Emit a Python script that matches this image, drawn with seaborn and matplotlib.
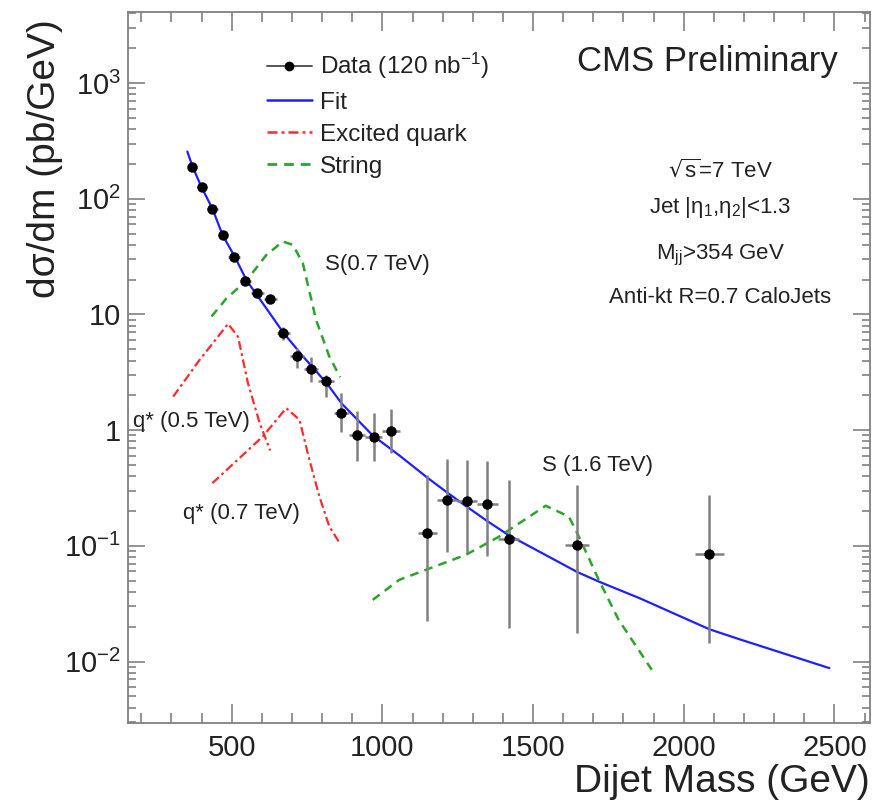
import matplotlib
matplotlib.use("Agg")
import matplotlib.pyplot as plt
from matplotlib.lines import Line2D
from matplotlib import ticker
import seaborn as sns
import numpy as np
import pandas as pd

# ── data ─────────────────────────────────────────────────────────────────────
bin_lo = [354, 386, 419, 453, 489, 526, 565, 606, 649, 693, 740, 788, 838, 890,
          944, 1000, 1118, 1181, 1246, 1313, 1383, 1607, 2037]
bin_hi = [386, 419, 453, 489, 526, 565, 606, 649, 693, 740, 788, 838, 890, 944,
          1000, 1058, 1181, 1246, 1313, 1383, 1455, 1687, 2132]
xsec = [190, 126, 82.3, 48.5, 31.3, 19.6, 15.3, 13.6, 6.98, 4.39, 3.41, 2.68,
        1.40, 0.91, 0.88, 0.99, 0.129, 0.250, 0.242, 0.229, 0.114, 0.102, 0.0853]
xsec_hi = [197, 131, 86, 51, 33, 20.8, 16.4, 14.7, 7.86, 5.11, 4.33, 3.0,
           2.09, 1.45, 1.40, 1.52, 0.411, 0.565, 0.553, 0.543, 0.372, 0.336, 0.275]
xsec_lo = [183, 121, 78.5, 46, 29.6, 18.4, 14.2, 12.5, 6.03, 3.43, 2.63, 1.95,
           0.97, 0.536, 0.536, 0.633, 0.0226, 0.0883, 0.0865, 0.0824, 0.0195, 0.0176, 0.0144]

fit_m = [353, 370, 400, 436, 470, 511, 550, 615, 671, 737, 815, 865, 968, 1058,
         1150, 1215, 1279, 1349, 1417, 1647, 1718, 1853, 2085, 2184, 2483]
fit_y = [256, 190, 126, 82.3, 48.5, 31.3, 19.6, 11.3, 6.98, 4.33, 2.55, 1.70, 0.90,
         0.60, 0.387, 0.289, 0.219, 0.163, 0.1245, 0.0593, 0.0491, 0.0353, 0.019,
         0.0156, 0.00877]

qstar05_m = [306, 394, 488, 521, 554, 593, 628]
qstar05_y = [1.95, 4.06, 8.3, 6.44, 2.55, 1.15, 0.667]
qstar07_m = [436, 603, 681, 725, 758, 791, 824, 860]
qstar07_y = [0.348, 0.88, 1.55, 1.23, 0.553, 0.267, 0.147, 0.104]

string07_m = [433, 483, 549, 615, 670, 703, 736, 780, 824, 860]
string07_y = [9.6, 13.8, 19.6, 32.7, 42.7, 40, 27.8, 8.97, 4.33, 2.87]
string16_m = [968, 1056, 1277, 1387, 1542, 1619, 1657, 1718, 1784, 1894]
string16_y = [0.0341, 0.0508, 0.0836, 0.120, 0.222, 0.179, 0.113, 0.0508, 0.0229, 0.00848]

y_ticks = [1e-2, 1e-1, 1, 10, 1e2, 1e3]
y_tick_labels = ["10$^{-2}$", "10$^{-1}$", "1", "10", "10$^{2}$", "10$^{3}$"]
x_ticks = [500, 1000, 1500, 2000, 2500]

# ── style ────────────────────────────────────────────────────────────────────
sns.set_theme(style="ticks")
plt.rcParams["font.family"] = ["Liberation Sans", "DejaVu Sans"]
plt.rcParams["mathtext.default"] = "regular"
TXT = "#222222"
FRAME = "#808080"

fig = plt.figure(figsize=(8.94, 8.08), dpi=100)
ax = fig.add_axes([128 / 894, 85 / 808, 742 / 894, 711 / 808])

# ── curves ───────────────────────────────────────────────────────────────────
curves = [
    (fit_m, fit_y, "#1f1fff", "-", 1.6),
    (qstar05_m, qstar05_y, "#ff2a2a", (0, (4, 1.6, 1.2, 1.6)), 1.6),
    (qstar07_m, qstar07_y, "#ff2a2a", (0, (4, 1.6, 1.2, 1.6)), 1.6),
    (string07_m, string07_y, "#2aa52a", (0, (3.5, 2.5)), 1.8),
    (string16_m, string16_y, "#2aa52a", (0, (3.5, 2.5)), 1.8),
]
for m, y, col, ls, lw in curves:
    df = pd.DataFrame({"m": m, "y": y})
    sns.lineplot(data=df, x="m", y="y", ax=ax, color=col, linestyle=ls, lw=lw,
                 sort=False, estimator=None, zorder=3)

# ── data points ──────────────────────────────────────────────────────────────
lo = np.array(bin_lo, float)
hi = np.array(bin_hi, float)
xc = (lo + hi) / 2
yv = np.array(xsec)
ax.errorbar(xc, yv, xerr=(hi - lo) / 2,
            yerr=[yv - np.array(xsec_lo), np.array(xsec_hi) - yv],
            fmt="o", color="black", ms=6.5, ecolor="#808080", elinewidth=1.8,
            capsize=0, zorder=4)

# ── axes ─────────────────────────────────────────────────────────────────────
ax.set_yscale("log")
ax.set_xlim(156, 2618)
ax.set_ylim(0.00294, 4120)
ax.set_xticks(x_ticks)
ax.xaxis.set_minor_locator(ticker.MultipleLocator(100))
ax.set_yticks(y_ticks)
ax.set_yticklabels(y_tick_labels)
ax.yaxis.set_minor_locator(ticker.LogLocator(base=10, subs=np.arange(2, 10), numticks=20))
ax.yaxis.set_minor_formatter(ticker.NullFormatter())

for s in ax.spines.values():
    s.set_color(FRAME)
    s.set_linewidth(1.3)
ax.tick_params(which="both", direction="in", top=True, right=True, color=FRAME, width=1.2)
ax.tick_params(axis="x", which="major", length=14, pad=8, labelsize=21, labelcolor=TXT)
ax.tick_params(axis="x", which="minor", length=7)
ax.tick_params(axis="y", which="major", length=12, pad=5, labelsize=21, labelcolor=TXT)
ax.tick_params(axis="y", which="minor", length=6)

ax.set_xlabel("Dijet Mass (GeV)", fontsize=28, color=TXT, loc="right")
ax.xaxis.set_label_coords(1.0, -0.058)
ax.set_ylabel("dσ/dm (pb/GeV)", fontsize=28, color=TXT, loc="top")
ax.yaxis.set_label_coords(-0.088, 0.99)

# ── legend ───────────────────────────────────────────────────────────────────
handles = [
    Line2D([], [], color="#555555", lw=1.4, marker="o", ms=6, mfc="black", mec="black"),
    Line2D([], [], color="#1f1fff", lw=1.8),
    Line2D([], [], color="#ff2a2a", lw=1.8, ls=(0, (4, 1.6, 1.2, 1.6))),
    Line2D([], [], color="#2aa52a", lw=2.0, ls=(0, (3.5, 2.5))),
]
labels = ["Data (120 nb$^{-1}$)", "Fit", "Excited quark", "String"]
leg = ax.legend(handles, labels, loc="upper left", bbox_to_anchor=(0.187, 0.945),
                frameon=False, fontsize=17.5, handlelength=1.85, handletextpad=0.35,
                labelspacing=0.42, borderpad=0, borderaxespad=0)
for t in leg.get_texts():
    t.set_color(TXT)

# ── annotations ──────────────────────────────────────────────────────────────
ax.text(0.957, 0.930, "CMS Preliminary", transform=ax.transAxes, ha="right",
        va="center", fontsize=25, color=TXT)
info = [("$\\sqrt{s}$=7 TeV", 0.778), ("Jet |η$_{1}$,η$_{2}$|<1.3", 0.725),
        ("M$_{jj}$>354 GeV", 0.658), ("Anti-kt R=0.7 CaloJets", 0.598)]
for s, yy in info:
    ax.text(0.798, yy, s, transform=ax.transAxes, ha="center", va="center",
            fontsize=16, color=TXT)

ax.text(808, 26.8, "S(0.7 TeV)", ha="left", va="center", fontsize=16, color=TXT)
ax.text(1529, 0.491, "S (1.6 TeV)", ha="left", va="center", fontsize=16, color=TXT)
ax.text(172, 1.18, "q* (0.5 TeV)", ha="left", va="center", fontsize=16, color=TXT)
ax.text(338, 0.189, "q* (0.7 TeV)", ha="left", va="center", fontsize=16, color=TXT)

fig.savefig("out.png", dpi=100)
